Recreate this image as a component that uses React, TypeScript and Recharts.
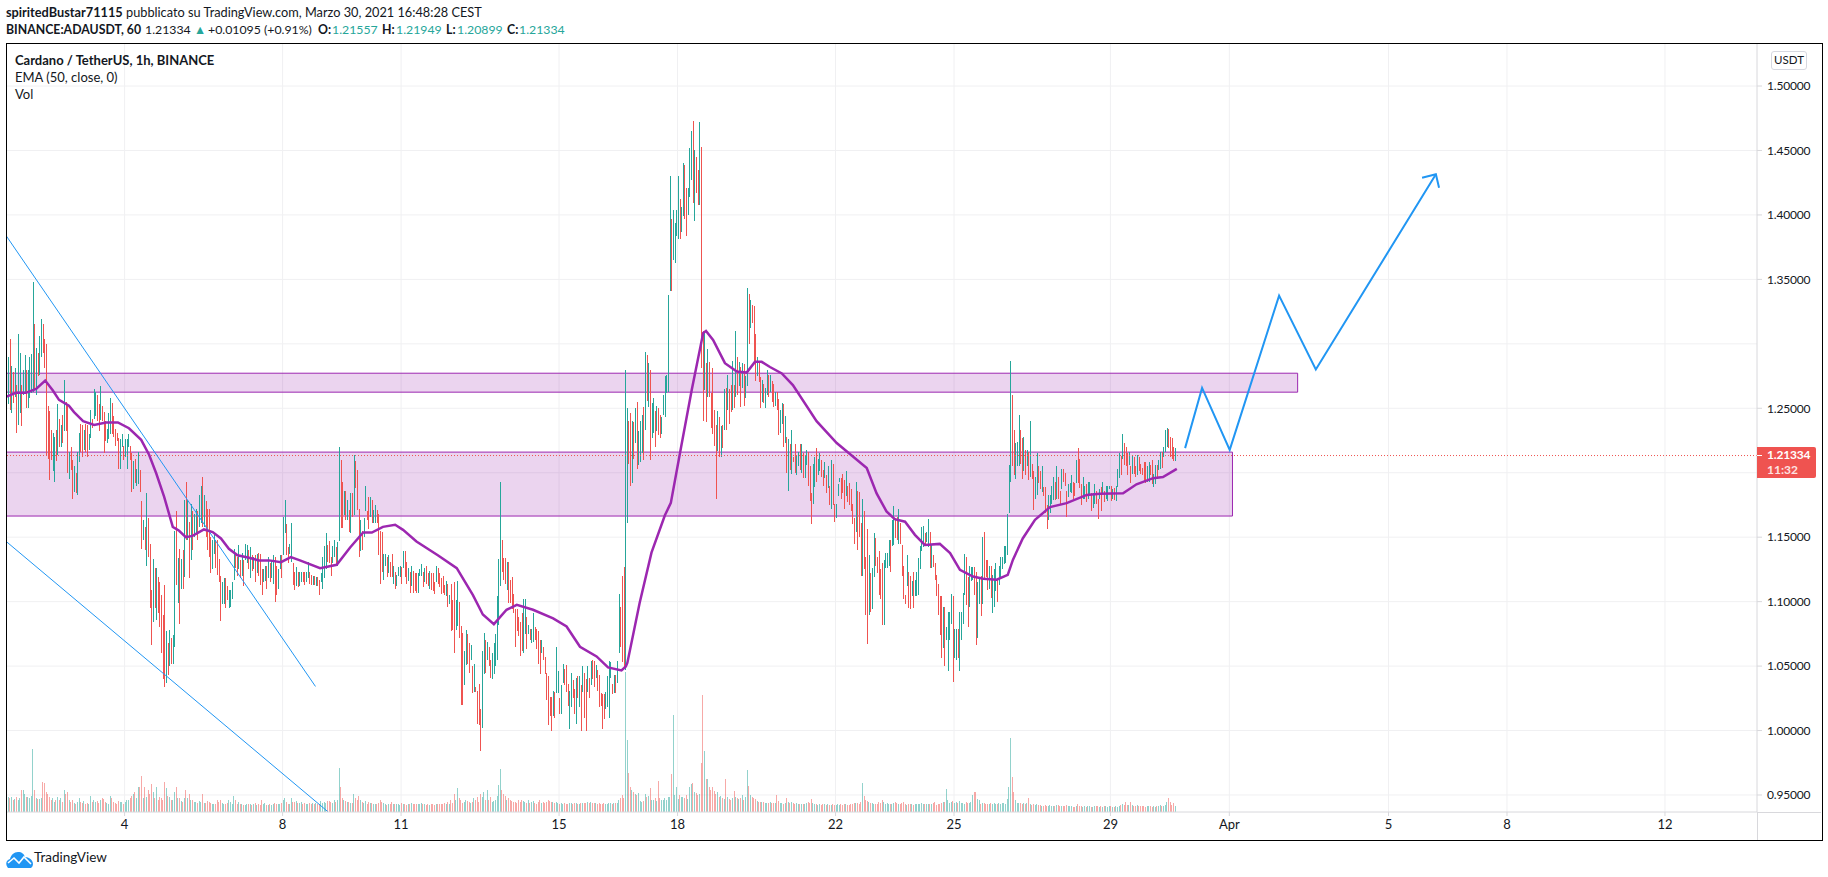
import { Bar, ComposedChart, CartesianGrid, Line, ReferenceArea, ReferenceLine, XAxis, YAxis } from "recharts";

// hourly candles, one list per stretch of March: [high, low, close, volume] prices in 1/1000 USDT, open = previous close
const mar01 = [[1323,1254,1290,25],[1290,1253,1296,15],[1304,1249,1270,14],[1283,1246,1278,15],[1275,1254,1262,12],[1281,1259,1272,13],[1268,1231,1258,15],[1308,1237,1274,12],[1293,1246,1280,14],[1268,1236,1262,22],[1280,1260,1270,22],[1291,1263,1278,18],[1280,1250,1268,15],[1280,1250,1274,15],[1290,1258,1282,14],[1292,1262,1288,16],[1348,1263,1292,63],[1315,1264,1280,22],[1297,1260,1287,14],[1293,1275,1282,13],[1306,1276,1298,13],[1319,1290,1305,14],[1315,1293,1298,30],[1304,1281,1285,29]];
const mar02 = [[1300,1213,1240,20],[1252,1211,1225,18],[1248,1194,1210,15],[1233,1210,1200,12],[1231,1201,1212,14],[1228,1193,1220,10],[1233,1209,1213,12],[1253,1214,1235,15],[1242,1220,1228,12],[1237,1220,1232,14],[1245,1223,1225,10],[1272,1232,1255,22],[1255,1232,1240,18],[1253,1200,1210,20],[1216,1195,1212,12],[1220,1202,1205,10],[1210,1180,1190,12],[1205,1185,1198,9],[1200,1184,1190,8],[1216,1183,1200,10],[1231,1208,1225,14],[1238,1216,1220,10],[1237,1212,1215,9],[1233,1218,1225,11]];
const mar03 = [[1238,1216,1222,8],[1237,1212,1218,9],[1230,1218,1226,8],[1249,1227,1240,16],[1242,1235,1238,10],[1265,1242,1248,12],[1263,1244,1256,10],[1260,1240,1250,11],[1253,1232,1246,9],[1267,1241,1258,12],[1252,1240,1245,14],[1247,1215,1232,13],[1240,1225,1228,10],[1234,1223,1232,9],[1246,1226,1240,8],[1258,1230,1250,16],[1254,1230,1236,14],[1244,1228,1232,10],[1234,1221,1230,9],[1231,1225,1227,8],[1227,1203,1212,11],[1226,1203,1222,10],[1230,1220,1224,10],[1221,1210,1214,8]];
const mar04 = [[1226,1212,1216,10],[1226,1203,1222,12],[1230,1220,1222,12],[1221,1210,1212,14],[1215,1185,1190,16],[1209,1187,1205,18],[1211,1192,1198,20],[1203,1190,1200,14],[1216,1191,1212,25],[1202,1185,1188,25],[1178,1141,1150,36],[1163,1148,1152,14],[1158,1140,1142,25],[1184,1128,1172,15],[1165,1135,1140,22],[1145,1095,1105,18],[1109,1066,1080,28],[1133,1084,1118,20],[1126,1095,1100,14],[1126,1086,1120,25],[1119,1091,1110,12],[1115,1080,1100,15],[1105,1060,1068,14],[1090,1040,1062,12]];
const mar05 = [[1113,1034,1048,30],[1077,1037,1068,24],[1068,1043,1048,16],[1078,1050,1072,15],[1072,1052,1060,12],[1074,1052,1070,12],[1155,1065,1130,20],[1170,1113,1125,25],[1134,1099,1128,14],[1141,1083,1100,14],[1133,1110,1128,11],[1140,1110,1118,10],[1179,1119,1170,14],[1193,1148,1160,22],[1179,1148,1172,14],[1162,1118,1135,18],[1176,1132,1165,12],[1170,1140,1148,12],[1168,1150,1160,10],[1172,1152,1166,10],[1170,1148,1154,9],[1183,1158,1176,11],[1190,1161,1182,10],[1197,1158,1172,18],[1183,1158,1178,9],[1178,1150,1160,9],[1172,1140,1150,11]];
const mar06 = [[1172,1135,1142,10],[1150,1122,1128,9],[1148,1125,1140,8],[1153,1137,1146,8],[1148,1126,1142,8],[1148,1121,1130,12],[1133,1115,1120,10],[1120,1085,1098,12],[1115,1098,1108,9],[1118,1098,1112,8],[1118,1095,1106,8],[1112,1101,1103,9],[1109,1095,1104,12],[1109,1096,1108,10],[1115,1102,1110,8],[1141,1117,1134,16],[1138,1126,1128,12],[1135,1120,1124,8],[1144,1125,1128,10],[1132,1118,1126,8],[1138,1120,1132,8],[1132,1112,1120,7],[1145,1132,1136,7],[1144,1130,1140,8]];
const mar07 = [[1140,1125,1130,8],[1142,1118,1134,8],[1136,1124,1128,7],[1135,1125,1132,8],[1136,1115,1126,9],[1137,1122,1130,7],[1138,1120,1122,8],[1137,1113,1118,7],[1125,1105,1110,12],[1125,1115,1122,8],[1128,1116,1125,9],[1128,1110,1114,7],[1135,1118,1128,7],[1130,1115,1120,8],[1132,1118,1128,7],[1136,1114,1130,8],[1135,1100,1112,9],[1128,1105,1108,8],[1125,1110,1120,8],[1136,1125,1130,8],[1136,1118,1124,9],[1166,1136,1155,12],[1179,1153,1165,14],[1160,1136,1142,10]];
const mar08 = [[1142,1130,1134,8],[1145,1137,1140,8],[1161,1131,1150,14],[1130,1113,1118,10],[1123,1109,1112,10],[1127,1112,1120,11],[1123,1111,1113,9],[1123,1112,1116,9],[1123,1115,1120,10],[1123,1115,1117,8],[1123,1113,1116,9],[1123,1115,1119,8],[1131,1118,1126,8],[1123,1114,1117,9],[1121,1113,1115,8],[1120,1113,1119,9],[1120,1113,1115,8],[1119,1112,1117,9],[1119,1112,1113,8],[1117,1105,1108,8],[1122,1115,1120,11],[1135,1110,1128,9],[1143,1118,1135,10],[1153,1125,1142,9],[1144,1131,1138,11]];
const mar09 = [[1147,1130,1136,11],[1135,1120,1124,10],[1143,1130,1140,9],[1148,1135,1144,12],[1142,1128,1132,10],[1146,1128,1140,12],[1220,1147,1200,44],[1210,1157,1190,25],[1193,1157,1170,14],[1186,1167,1180,12],[1186,1163,1168,11],[1179,1163,1176,10],[1171,1154,1160,10],[1184,1153,1176,9],[1184,1166,1172,9],[1214,1167,1205,18],[1209,1188,1195,14],[1202,1171,1180,12],[1172,1135,1145,16],[1163,1139,1158,12],[1155,1140,1152,10],[1165,1150,1160,9],[1190,1170,1176,11],[1170,1163,1168,8]];
const mar10 = [[1181,1156,1160,10],[1181,1166,1176,9],[1179,1161,1165,9],[1171,1161,1168,8],[1175,1161,1172,8],[1171,1161,1164,8],[1168,1136,1145,9],[1155,1114,1140,12],[1154,1123,1128,10],[1137,1117,1130,9],[1137,1128,1134,8],[1135,1119,1125,7],[1136,1122,1130,8],[1131,1119,1122,8],[1137,1119,1120,10],[1128,1114,1124,8],[1123,1110,1112,8],[1121,1112,1117,8],[1127,1120,1125,8],[1128,1119,1127,7],[1127,1114,1116,9],[1139,1126,1128,8],[1139,1119,1122,8],[1131,1114,1118,7],[1126,1116,1120,8],[1123,1107,1110,8]];
const mar11 = [[1128,1112,1120,9],[1124,1107,1114,8],[1122,1108,1112,8],[1122,1107,1110,8],[1122,1107,1116,8],[1125,1120,1122,8],[1129,1120,1126,9],[1123,1111,1116,8],[1126,1115,1120,8],[1128,1114,1118,7],[1122,1112,1116,8],[1124,1110,1120,7],[1122,1109,1112,8],[1122,1108,1110,8],[1115,1106,1108,7],[1128,1115,1125,8],[1126,1114,1118,8],[1122,1111,1114,8],[1118,1106,1112,8],[1120,1107,1110,8],[1113,1105,1107,9],[1116,1104,1108,8],[1114,1096,1100,10],[1105,1098,1102,8],[1114,1077,1085,12],[1101,1078,1084,9]];
const mar12 = [[1115,1060,1070,18],[1101,1078,1092,12],[1116,1081,1100,24],[1097,1072,1078,14],[1081,1020,1040,12],[1076,1020,1032,9],[1062,1035,1050,10],[1078,1051,1072,12],[1075,1052,1060,11],[1068,1045,1052,10],[1066,1055,1062,9],[1050,1029,1035,10],[1052,1030,1045,14],[1034,1030,1032,12],[1031,1005,1015,15],[1036,1004,1012,10],[1017,984,1000,18],[1062,1002,1050,15],[1076,1044,1068,20],[1070,1045,1054,12],[1069,1055,1060,22],[1065,1050,1056,12],[1055,1041,1048,15],[1060,1040,1052,10],[1068,1044,1060,11],[1075,1050,1066,12],[1104,1055,1095,16]];
const mar13 = [[1133,1082,1120,27],[1193,1112,1150,43],[1148,1123,1130,22],[1134,1117,1122,18],[1134,1114,1118,16],[1131,1109,1122,12],[1131,1099,1106,14],[1117,1099,1104,12],[1119,1094,1098,11],[1106,1091,1096,10],[1094,1065,1085,10],[1094,1077,1080,9],[1088,1073,1078,12],[1084,1058,1070,10],[1091,1062,1068,12],[1102,1060,1088,11],[1102,1075,1090,10],[1088,1063,1075,9],[1082,1075,1080,12],[1079,1070,1072,9],[1079,1068,1078,10],[1091,1069,1085,11],[1080,1070,1074,9],[1079,1063,1068,8]];
const mar14 = [[1077,1052,1060,10],[1070,1044,1058,12],[1070,1060,1066,9],[1065,1055,1058,10],[1057,1044,1048,9],[1045,1024,1030,10],[1042,1004,1022,12],[1026,1011,1015,11],[1026,1000,1008,10],[1031,1011,1025,10],[1030,1010,1020,9],[1065,1029,1040,10],[1046,1029,1042,9],[1025,1013,1020,8],[1035,1013,1030,9],[1052,1037,1045,8],[1048,1035,1040,9],[1051,1030,1036,8],[1036,1019,1024,8],[1031,1001,1025,9],[1045,1018,1035,9],[1039,1025,1032,8],[1032,1013,1018,9],[1041,1005,1035,9]];
const mar15 = [[1042,1025,1030,8],[1042,1018,1030,8],[1035,1000,1020,9],[1050,1030,1044,9],[1045,1010,1038,9],[1040,1000,1025,9],[1050,1030,1040,10],[1041,1025,1035,9],[1054,1035,1048,10],[1055,1040,1044,9],[1054,1034,1040,9],[1051,1041,1048,9],[1047,1031,1036,8],[1043,1018,1024,9],[1029,1019,1022,8],[1028,1001,1018,8],[1028,1009,1012,9],[1030,1017,1025,8],[1042,1018,1030,8],[1054,1010,1044,9],[1053,1041,1050,9]];
const mar16 = [[1036,1028,1032,8],[1043,1029,1040,9],[1043,1029,1036,9],[1054,1037,1048,9],[1106,1060,1080,12],[1096,1065,1072,14],[1120,1053,1060,17],[1127,1049,1050,14],[1280,1047,1220,140],[1250,1161,1235,72],[1240,1207,1212,39],[1246,1190,1205,25],[1240,1192,1225,22],[1239,1211,1218,20],[1250,1223,1238,18],[1255,1203,1215,17],[1232,1206,1222,19],[1240,1208,1222,11],[1245,1215,1240,10],[1251,1210,1238,11]];
const mar17 = [[1294,1233,1285,18],[1291,1256,1262,15],[1285,1251,1272,16],[1280,1210,1225,24],[1254,1227,1235,12],[1258,1231,1240,12],[1248,1220,1235,14],[1252,1232,1245,11],[1250,1229,1236,31],[1245,1227,1232,14],[1243,1230,1238,12],[1260,1245,1255,12],[1275,1243,1268,14],[1276,1262,1272,12],[1338,1263,1320,15],[1430,1341,1412,15],[1397,1341,1362,38],[1404,1365,1372,97],[1394,1363,1385,17],[1404,1384,1392,25],[1430,1381,1396,13],[1412,1381,1388,17],[1406,1387,1402,15],[1440,1399,1428,15]];
const mar18 = [[1439,1397,1415,14],[1421,1384,1402,17],[1421,1400,1416,13],[1452,1414,1440,25],[1465,1427,1455,28],[1473,1409,1425,29],[1450,1395,1438,20],[1445,1417,1420,19],[1435,1408,1412,17],[1472,1408,1450,18],[1453,1281,1300,49],[1310,1240,1262,117],[1310,1264,1275,61],[1285,1239,1258,33],[1296,1259,1280,33],[1286,1259,1265,25],[1262,1235,1248,22],[1281,1230,1240,25],[1249,1221,1230,21],[1237,1180,1225,18],[1248,1217,1238,20],[1243,1212,1225,15],[1236,1212,1232,16],[1237,1219,1226,14],[1265,1233,1255,13]];
const mar19 = [[1266,1233,1242,33],[1276,1249,1258,15],[1265,1238,1255,13],[1268,1247,1252,12],[1287,1249,1280,14],[1268,1250,1254,21],[1310,1259,1295,15],[1290,1260,1268,14],[1286,1267,1280,13],[1282,1251,1262,14],[1285,1266,1270,17],[1284,1252,1268,12],[1275,1258,1272,15],[1343,1267,1330,42],[1339,1300,1310,26],[1334,1312,1328,17],[1330,1316,1320,15],[1329,1285,1295,14],[1308,1271,1282,13],[1290,1275,1287,11],[1286,1270,1278,10],[1274,1250,1262,10]];
const mar20 = [[1272,1255,1266,10],[1269,1254,1260,10],[1266,1250,1264,9],[1280,1260,1272,9],[1276,1259,1268,9],[1276,1263,1272,10],[1271,1255,1258,9],[1269,1251,1254,9],[1263,1252,1258,9],[1263,1249,1252,17],[1257,1229,1236,11],[1249,1231,1242,9],[1254,1238,1250,9],[1253,1220,1228,8],[1244,1223,1236,9],[1228,1200,1205,14],[1226,1186,1218,10],[1222,1202,1212,9],[1233,1199,1222,10],[1212,1208,1210,9],[1222,1200,1204,8],[1214,1198,1206,9],[1216,1205,1212,8],[1222,1202,1208,8]];
const mar21 = [[1222,1200,1215,8],[1215,1196,1205,8],[1214,1196,1210,8],[1218,1206,1214,9],[1216,1190,1198,10],[1205,1178,1186,9],[1184,1160,1165,13],[1207,1176,1202,9],[1212,1189,1208,8],[1219,1193,1204,8],[1211,1198,1206,7],[1215,1201,1212,8],[1210,1197,1200,7],[1202,1190,1198,8],[1208,1196,1202,8],[1198,1184,1190,7],[1205,1188,1200,8],[1190,1175,1182,7],[1210,1172,1192,7],[1207,1175,1180,8],[1176,1162,1170,7],[1176,1165,1172,7],[1191,1182,1186,8],[1196,1193,1195,7]];
const mar22 = [[1196,1180,1190,8],[1199,1184,1186,7],[1194,1172,1178,8],[1201,1182,1196,8],[1190,1177,1184,7],[1192,1175,1180,7],[1187,1170,1174,8],[1176,1160,1165,8],[1165,1145,1150,9],[1193,1154,1185,9],[1186,1140,1160,9],[1185,1150,1158,8],[1161,1120,1130,10],[1180,1120,1170,29],[1170,1125,1135,16],[1135,1090,1100,12],[1156,1067,1090,11],[1136,1090,1125,10],[1122,1092,1110,9],[1126,1094,1120,9]];
const mar23 = [[1153,1119,1148,8],[1149,1128,1132,8],[1135,1122,1126,8],[1139,1105,1115,10],[1125,1102,1108,9],[1130,1082,1090,12],[1132,1082,1125,10],[1138,1126,1132,8],[1138,1126,1136,9],[1148,1128,1145,8],[1148,1123,1130,8],[1163,1143,1155,8],[1174,1144,1165,9],[1165,1149,1155,10],[1166,1148,1150,9],[1172,1145,1160,8],[1161,1145,1158,8],[1144,1120,1130,9],[1128,1102,1110,10],[1105,1098,1100,8],[1136,1112,1128,7],[1123,1095,1108,8],[1120,1094,1100,8],[1116,1104,1110,8]];
const mar24 = [[1123,1095,1100,7],[1117,1104,1112,8],[1123,1104,1116,8],[1134,1105,1128,8],[1143,1125,1135,8],[1158,1139,1150,9],[1159,1142,1155,8],[1153,1143,1148,8],[1154,1146,1150,8],[1164,1142,1160,8],[1154,1126,1132,8],[1144,1126,1138,8],[1136,1127,1130,9],[1130,1117,1122,10],[1121,1104,1112,7],[1114,1090,1100,8],[1104,1074,1085,8],[1104,1056,1070,9],[1096,1064,1078,10],[1096,1050,1055,10],[1080,1070,1074,23],[1092,1046,1080,12],[1092,1070,1082,9],[1106,1083,1098,10]];
const mar25 = [[1104,1038,1060,11],[1079,1056,1062,9],[1079,1055,1070,10],[1079,1056,1068,9],[1092,1046,1084,11],[1092,1070,1088,9],[1107,1083,1100,9],[1137,1105,1125,8],[1135,1097,1108,10],[1119,1080,1095,9],[1128,1096,1115,9],[1127,1116,1120,10],[1127,1117,1124,17],[1127,1105,1118,20],[1123,1066,1085,20],[1115,1072,1108,13],[1118,1098,1112,12],[1120,1089,1106,8],[1150,1098,1142,9],[1154,1117,1130,9],[1132,1119,1125,8],[1132,1109,1115,8],[1128,1110,1120,8],[1128,1103,1108,9]];
const mar26 = [[1121,1091,1112,8],[1125,1096,1118,9],[1130,1108,1124,8],[1117,1100,1112,8],[1128,1113,1122,9],[1135,1119,1130,8],[1135,1125,1132,9],[1143,1129,1138,9],[1143,1130,1140,8],[1168,1136,1150,13],[1206,1169,1200,25],[1287,1193,1240,74],[1260,1205,1225,35],[1233,1198,1210,20],[1223,1195,1215,12],[1224,1205,1220,9],[1245,1205,1225,9],[1233,1207,1215,9],[1227,1195,1205,8],[1228,1201,1218,9],[1218,1198,1208,8],[1218,1205,1212,9],[1216,1194,1206,14],[1240,1197,1215,8]];
const mar27 = [[1207,1195,1202,7],[1201,1171,1180,8],[1197,1182,1192,7],[1215,1183,1205,8],[1205,1192,1198,7],[1201,1187,1195,7],[1205,1185,1198,6],[1189,1182,1186,6],[1189,1169,1176,7],[1175,1156,1165,6],[1183,1163,1176,6],[1183,1169,1178,7],[1190,1176,1184,6],[1197,1179,1188,6],[1193,1179,1186,6],[1205,1180,1198,7],[1197,1180,1188,7],[1186,1175,1180,6],[1203,1187,1198,6],[1203,1193,1196,6],[1200,1190,1192,6],[1186,1166,1178,7],[1191,1181,1186,6],[1192,1185,1188,6]];
const mar28 = [[1198,1184,1192,6],[1193,1180,1186,5],[1192,1182,1184,5],[1210,1192,1205,6],[1219,1192,1200,8],[1211,1188,1198,6],[1191,1175,1182,6],[1197,1180,1186,5],[1190,1180,1188,6],[1191,1177,1184,5],[1193,1180,1186,6],[1193,1183,1190,6],[1184,1170,1176,5],[1184,1173,1180,5],[1191,1176,1184,6],[1186,1176,1180,6],[1180,1164,1170,6],[1187,1180,1184,5],[1189,1170,1176,6],[1193,1184,1190,5],[1186,1177,1180,6],[1190,1180,1184,6],[1190,1178,1186,5],[1190,1187,1188,6]];
const mar29 = [[1190,1178,1182,6],[1187,1180,1186,5],[1188,1179,1182,5],[1190,1178,1184,6],[1203,1189,1198,5],[1215,1196,1208,6],[1213,1198,1205,7],[1230,1211,1225,8],[1223,1206,1214,7],[1220,1205,1212,10],[1215,1198,1204,7],[1216,1206,1210,7],[1205,1192,1198,10],[1214,1199,1208,7],[1212,1199,1203,6],[1205,1197,1200,6],[1214,1198,1210,7],[1212,1201,1206,6],[1207,1199,1202,6],[1204,1198,1200,6],[1208,1193,1198,6],[1208,1192,1196,5],[1205,1193,1198,6],[1208,1193,1206,6]];
const mar30 = [[1206,1198,1202,6],[1210,1191,1195,5],[1199,1189,1197,6],[1206,1191,1204,5],[1206,1197,1202,6],[1210,1202,1208,6],[1216,1203,1212,7],[1216,1204,1208,6],[1220,1212,1218,6],[1233,1216,1228,7],[1235,1220,1232,10],[1234,1219,1224,14],[1228,1212,1220,10],[1227,1211,1215,7],[1220,1209,1213,9],[1219,1209,1213,6]];

const stretches = [mar01, mar02, mar03, mar04, mar05, mar06, mar07, mar08, mar09, mar10, mar11, mar12, mar13, mar14, mar15, mar16, mar17, mar18, mar19, mar20, mar21, mar22, mar23, mar24, mar25, mar26, mar27, mar28, mar29, mar30];

const emaDays = [1.01,1.25,1.5,1.76,1.99,2.18,2.34,2.59,2.72,2.95,3.23,3.53,3.83,4.11,4.42,4.62,4.8,5,5.22,5.38,5.55,5.72,6.01,6.23,6.44,6.64,6.86,7.15,7.4,7.66,7.96,8.21,8.44,8.95,9.37,9.71,10.04,10.26,10.54,10.85,11.05,11.39,11.93,12.41,12.82,13.07,13.35,13.67,13.93,14.34,14.85,15.19,15.53,15.95,16.24,16.58,16.69,16.73,17.04,17.34,17.68,17.83,18.09,18.36,18.65,18.72,18.9,19.2,19.5,19.75,19.96,20.13,20.34,20.64,20.92,21.52,22.03,22.28,22.79,23.04,23.29,23.5,23.76,24.01,24.26,24.64,24.9,25.15,25.48,25.74,26.08,26.36,26.49,26.74,27.05,27.43,27.85,28.36,28.69,29.28,29.62,30.04,30.29,30.64];
const emaPrices = [1.259,1.262,1.262,1.265,1.2715,1.264,1.2565,1.252,1.247,1.24,1.237,1.239,1.239,1.2345,1.2255,1.214,1.1996,1.1815,1.158,1.155,1.15,1.151,1.156,1.154,1.149,1.141,1.136,1.134,1.132,1.132,1.1306,1.1345,1.132,1.126,1.1286,1.142,1.1536,1.1536,1.158,1.1596,1.1557,1.1467,1.136,1.126,1.105,1.09,1.0825,1.0937,1.0975,1.0937,1.087,1.0807,1.065,1.0575,1.049,1.0466,1.0497,1.0526,1.099,1.138,1.167,1.1766,1.22,1.2643,1.3085,1.31,1.303,1.285,1.2785,1.2777,1.286,1.286,1.282,1.277,1.268,1.24,1.223,1.2166,1.2036,1.184,1.17,1.164,1.162,1.1518,1.144,1.1448,1.1376,1.1247,1.1195,1.1177,1.117,1.1208,1.1324,1.149,1.1635,1.1733,1.1764,1.1828,1.1836,1.184,1.191,1.1958,1.1966,1.203];

// drawn trend lines and the projection arrow, [day, price]
const trendUpper = [[1.005,1.3837],[8.833,1.0342]];
const trendLower = [[1.005,1.1466],[9.149,0.937]];
const projection = [[30.85,1.2191],[31.28,1.2658],[31.98,1.2177],[33.23,1.3374],[34.16,1.2801],[37.2,1.4315]];
const arrowHead = [[36.85,1.4289],[37.2,1.4315],[37.28,1.4211]];

const zoneUpper = { from: 1.005, to: 33.7, low: 1.2625, high: 1.2772 };
const zoneLower = { from: 1.005, to: 32.05, low: 1.1664, high: 1.216 };

const priceTicks = [0.95, 1, 1.05, 1.1, 1.15, 1.2, 1.25, 1.3, 1.35, 1.4, 1.45, 1.5];
const hiddenPriceTicks = [1.2, 1.3]; // covered by the last price tag / skipped by the scale labels
const dayTicks = [4, 8, 11, 15, 18, 22, 25, 28.96, 31.97, 36, 39, 43];
const dayLabels = ["4", "8", "11", "15", "18", "22", "25", "29", "Apr", "5", "8", "12"];
const lastPrice = 1.21334;

const UP = "#26a69a";
const DOWN = "#ef5350";
const BLUE = "#2196f3";
const PURPLE = "#9c27b0";
const GRID = "#f0f0f2";
const AXIS = "#d8d8dc";
const TEXT = "#131722";
const FONT = "Lato, 'Noto Sans', sans-serif";
const DOMAIN_X: [number, number] = [1.005, 45.33];
const DOMAIN_Y: [number, number] = [0.9368, 1.5326];

const rows: any[] = [];
let prevClose = 1.31;
stretches.flat().forEach((c, i) => {
  const close = c[2] / 1000;
  rows.push({
    t: 1 + (i + 0.5) / 24,
    high: c[0] / 1000,
    low: c[1] / 1000,
    open: prevClose,
    close,
    vol: c[3],
  });
  prevClose = close;
});

const toPoints = (list: number[][]) => list.map(([t, price]) => ({ t, price }));
const emaPoints = emaDays.map((t, i) => ({ t, price: emaPrices[i] }));

const CandleShape = (props: any) => {
  const { x, y, width, height, payload } = props;
  const { high, low, open, close } = payload;
  const k = height / (high - low);
  const yOf = (p: number) => y + (high - p) * k;
  const top = yOf(Math.max(open, close));
  const bottom = yOf(Math.min(open, close));
  const color = close >= open ? UP : DOWN;
  return (
    <g shapeRendering="crispEdges">
      <rect x={x + width / 2 - 0.5} y={y} width={1} height={height} fill={color} />
      <rect x={x} y={top} width={width} height={Math.max(bottom - top, 1)} fill={color} />
    </g>
  );
};

const VolumeShape = (props: any) => {
  const { x, y, width, height, payload } = props;
  const color = payload.close >= payload.open ? UP : DOWN;
  return <rect x={x} y={y} width={width} height={height} fill={color} fillOpacity={0.5} shapeRendering="crispEdges" />;
};

const textAt = (left: number, top: number, extra: any = {}) => ({
  position: "absolute" as const,
  left,
  top,
  font: `12.75px ${FONT}`,
  color: TEXT,
  lineHeight: "17px",
  whiteSpace: "nowrap" as const,
  ...extra,
});

// the second header line, each piece placed where it stands in the screenshot
const headerPieces: [number, string, string, boolean][] = [
  [6, "BINANCE:ADAUSDT, 60", TEXT, true],
  [145, "1.21334", TEXT, false],
  [194, "▲", UP, false],
  [208, "+0.01095 (+0.91%)", TEXT, false],
  [318, "O:", TEXT, true],
  [332, "1.21557", UP, false],
  [382, "H:", TEXT, true],
  [396, "1.21949", UP, false],
  [446, "L:", TEXT, true],
  [457, "1.20899", UP, false],
  [507, "C:", TEXT, true],
  [519, "1.21334", UP, false],
];

export default function App() {
  return (
    <div style={{ position: "absolute", left: 0, top: 0, width: 1828, height: 877, background: "#fff", overflow: "hidden" }}>
      <div style={textAt(6, 4)}>
        <b>spiritedBustar71115</b> pubblicato su TradingView.com, Marzo 30, 2021 16:48:28 CEST
      </div>
      {headerPieces.map(([left, text, color, bold]) => (
        <div key={left} style={textAt(left, 21, { color, fontWeight: bold ? 700 : 400, fontSize: 12.3 })}>{text}</div>
      ))}

      <div style={{ position: "absolute", left: 0, top: 0 }}>
        <ComposedChart width={1828} height={877} data={rows} margin={{ top: 44, right: 7, bottom: 37, left: 6.3 }}>
          <CartesianGrid stroke={GRID} horizontalValues={priceTicks} verticalValues={dayTicks} />
          <XAxis
            dataKey="t"
            type="number"
            domain={DOMAIN_X}
            allowDataOverflow
            ticks={dayTicks}
            interval={0}
            tickFormatter={(_v: number, i: number) => dayLabels[i]}
            height={28}
            stroke={AXIS}
            tickSize={4}
            tickMargin={4}
            tick={{ fill: TEXT, fontSize: 13, fontFamily: FONT }}
          />
          <XAxis xAxisId="vol" dataKey="t" type="number" domain={DOMAIN_X} allowDataOverflow hide />
          <YAxis
            orientation="right"
            type="number"
            domain={DOMAIN_Y}
            allowDataOverflow
            ticks={priceTicks.filter((p) => !hiddenPriceTicks.includes(p))}
            interval={0}
            tickFormatter={(v: number) => v.toFixed(5)}
            width={64}
            stroke={AXIS}
            tickSize={5}
            tickMargin={5}
            tick={{ fill: TEXT, fontSize: 12, fontFamily: FONT, letterSpacing: -0.2 }}
          />
          <YAxis yAxisId="vol" domain={[0, 768]} hide />

          <Bar xAxisId="vol" yAxisId="vol" dataKey="vol" barSize={1} shape={VolumeShape} isAnimationActive={false} />
          <Bar dataKey={(r: any) => [r.low, r.high]} barSize={1.5} shape={CandleShape} isAnimationActive={false} />

          <ReferenceArea x1={zoneUpper.from} x2={zoneUpper.to} y1={zoneUpper.low} y2={zoneUpper.high} fill={PURPLE} fillOpacity={0.2} stroke={PURPLE} strokeWidth={1} ifOverflow="hidden" />
          <ReferenceArea x1={zoneLower.from} x2={zoneLower.to} y1={zoneLower.low} y2={zoneLower.high} fill={PURPLE} fillOpacity={0.2} stroke={PURPLE} strokeWidth={1} ifOverflow="hidden" />
          <ReferenceLine y={lastPrice} stroke={DOWN} strokeWidth={1} strokeDasharray="1 2" />

          <Line data={toPoints(trendUpper)} dataKey="price" stroke={BLUE} strokeWidth={1} dot={false} isAnimationActive={false} />
          <Line data={toPoints(trendLower)} dataKey="price" stroke={BLUE} strokeWidth={1} dot={false} isAnimationActive={false} />
          <Line data={emaPoints} dataKey="price" stroke={PURPLE} strokeWidth={2.5} dot={false} isAnimationActive={false} />
          <Line data={toPoints(projection)} dataKey="price" stroke={BLUE} strokeWidth={2} dot={false} isAnimationActive={false} />
          <Line data={toPoints(arrowHead)} dataKey="price" stroke={BLUE} strokeWidth={2} dot={false} isAnimationActive={false} />
        </ComposedChart>
      </div>

      {/* pane frame and the axis lines running under the price scale */}
      <div style={{ position: "absolute", left: 5.5, top: 43, width: 1815, height: 796, border: "1.2px solid #000", pointerEvents: "none" }} />
      <div style={{ position: "absolute", left: 1757, top: 812, width: 64, height: 1, background: AXIS }} />
      <div style={{ position: "absolute", left: 1757, top: 812, width: 1, height: 28, background: AXIS }} />

      <div style={textAt(15, 52, { fontSize: 13, fontWeight: 700 })}>Cardano / TetherUS, 1h, BINANCE</div>
      <div style={textAt(15, 69, { fontSize: 13 })}>EMA (50, close, 0)</div>
      <div style={textAt(15, 86, { fontSize: 13 })}>Vol</div>

      <div style={{ ...textAt(1771, 51, { fontSize: 11.5 }), width: 34, height: 17, lineHeight: "16px", textAlign: "center", border: "1px solid #d6d8e0", borderRadius: 3 }}>USDT</div>

      <div style={{ position: "absolute", left: 1757, top: 447, width: 59, height: 31, background: DOWN, borderRadius: "0 2px 2px 0" }} />
      <div style={textAt(1767, 447, { color: "#fff", fontSize: 12, fontWeight: 700, letterSpacing: -0.2, lineHeight: "16px" })}>1.21334</div>
      <div style={textAt(1767, 462, { color: "#fde3e2", fontSize: 12, fontWeight: 700, lineHeight: "16px" })}>11:32</div>
      <div style={{ position: "absolute", left: 1757, top: 455, width: 5, height: 1, background: "#fff" }} />

      <svg style={{ position: "absolute", left: 6, top: 850 }} width={27} height={18} viewBox="0 0 27 18">
        <path d="M2 18 C-1 14 0 10 4 9 C5 5 8 2 12 2 C16 2 18 4 19 7 C23 7 27 10 27 14 C27 16 26 17 25 18 Z" fill={BLUE} />
        <path d="M2 13 L8 8 L13 13 L18 7 L25 14" fill="none" stroke="#fff" strokeWidth={1.6} />
      </svg>
      <div style={textAt(34, 849, { fontSize: 13.5 })}>TradingView</div>
    </div>
  );
}
